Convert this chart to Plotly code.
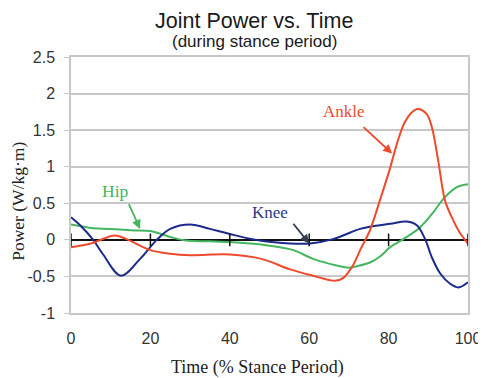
import plotly.graph_objects as go

# ---- data ----
ankle_x = [0, 5, 11, 14, 20, 25, 30, 40, 48, 55, 61, 66.5, 68.6, 71, 73, 75.3, 77.8, 80.2, 82.3, 84, 85.8, 87.3, 89.6, 90.9, 92.5, 94.2, 95.9, 97.9, 100]
ankle_y = [-0.1, -0.05, 0.06, 0.01, -0.14, -0.19, -0.21, -0.2, -0.26, -0.4, -0.49, -0.56, -0.52, -0.35, -0.12, 0.13, 0.54, 0.95, 1.35, 1.6, 1.74, 1.79, 1.72, 1.54, 1.08, 0.54, 0.31, 0.1, -0.05]

hip_x = [0, 5.6, 10, 15, 20, 25, 29, 35, 40, 45, 50, 56, 61, 66.9, 70, 72, 75.3, 78, 80.4, 83.7, 87.9, 91.3, 93.8, 97.2, 100]
hip_y = [0.21, 0.16, 0.15, 0.13, 0.12, 0.04, -0.01, -0.02, -0.03, -0.05, -0.08, -0.14, -0.26, -0.35, -0.38, -0.36, -0.31, -0.22, -0.1, 0.01, 0.17, 0.38, 0.56, 0.72, 0.76]

knee_x = [0, 2.3, 5.6, 8.1, 12.6, 17.4, 21.6, 25, 30, 35, 40, 47.6, 55.2, 60.2, 66, 72.8, 75.3, 80.4, 84.6, 87.1, 89.2, 90.9, 93, 95.5, 97.6, 100]
knee_y = [0.31, 0.2, 0.0, -0.2, -0.49, -0.26, 0.0, 0.15, 0.21, 0.15, 0.08, -0.01, -0.05, -0.05, 0.01, 0.15, 0.18, 0.22, 0.25, 0.2, 0.01, -0.24, -0.46, -0.6, -0.65, -0.58]

x_ticks = [0, 20, 40, 60, 80, 100]
y_ticks = [-1, -0.5, 0, 0.5, 1, 1.5, 2, 2.5]
y_tick_labels = ["-1", "-0.5", "0", "0.5", "1", "1.5", "2", "2.5"]

RED = "#ef4a2c"
GREEN = "#44b660"
NAVY = "#1c2a8c"

fig = go.Figure()

for xs, ys, c in [(hip_x, hip_y, GREEN), (knee_x, knee_y, NAVY), (ankle_x, ankle_y, RED)]:
    fig.add_trace(go.Scatter(x=xs, y=ys, mode="lines",
                             line=dict(color=c, width=2, shape="spline", smoothing=1.0),
                             showlegend=False, hoverinfo="skip"))

# zero-line tick marks
fig.add_trace(go.Scatter(
    x=x_ticks, y=[0] * len(x_ticks), mode="markers",
    marker=dict(symbol="line-ns-open", size=9, color="#111111", line=dict(color="#111111", width=1.5)),
    hoverinfo="skip", showlegend=False))

serif = "Liberation Serif"
sans = "Liberation Sans"

fig.update_layout(
    width=478, height=370,
    margin=dict(l=63, r=18, t=49, b=65),
    paper_bgcolor="white", plot_bgcolor="white",
    showlegend=False,
    xaxis=dict(range=[0, 100], tickvals=x_ticks, showgrid=False, zeroline=False, automargin=False,
               showline=True, linecolor="#c8c8c8", linewidth=1.5, mirror=True,
               ticks="", ticklabelstandoff=10,
               tickfont=dict(family=sans, size=16, color="#333333")),
    yaxis=dict(range=[-1, 2.5], tickvals=y_ticks, ticktext=y_tick_labels, automargin=False,
               showgrid=True, gridcolor="#c8c8c8", gridwidth=1.5,
               zeroline=True, zerolinecolor="#111111", zerolinewidth=1.5,
               showline=True, linecolor="#c8c8c8", linewidth=1.5, mirror=True,
               ticks="outside", ticklen=5, tickcolor="#c8c8c8", ticklabelstandoff=6,
               tickfont=dict(family=sans, size=16, color="#333333")),
)

annotations = [
    dict(text="Joint Power vs. Time", xref="paper", yref="paper", x=0.4622, y=1.140,
         showarrow=False, font=dict(family=sans, size=21.5, color="#1a1a1a"), xanchor="center", yanchor="middle"),
    dict(text="(during stance period)", xref="paper", yref="paper", x=0.4622, y=1.060,
         showarrow=False, font=dict(family=sans, size=17, color="#1a1a1a"), xanchor="center", yanchor="middle"),
    dict(text="Time (% Stance Period)", xref="paper", yref="paper", x=0.4698, y=-0.212,
         showarrow=False, font=dict(family=serif, size=18, color="#222222"), xanchor="center", yanchor="middle"),
    dict(text="Power (W/kg·m)", xref="paper", yref="paper", x=-0.1335, y=0.4344, textangle=-90,
         showarrow=False, font=dict(family=serif, size=17.5, color="#222222"), xanchor="center", yanchor="middle"),
    dict(text="Ankle", x=68.8, y=1.75, showarrow=False, font=dict(family=serif, size=17, color=RED)),
    dict(text="Hip", x=11.1, y=0.67, showarrow=False, font=dict(family=serif, size=17.5, color=GREEN)),
    dict(text="Knee", x=50.1, y=0.37, showarrow=False, font=dict(family=serif, size=17, color="#2b3a86")),
    dict(text="", x=80.9, y=1.18, ax=73.3, ay=1.56, axref="x", ayref="y", showarrow=True,
         arrowhead=2, arrowsize=1, arrowwidth=1.8, arrowcolor=RED),
    dict(text="", x=17.4, y=0.15, ax=14.4, ay=0.51, axref="x", ayref="y", showarrow=True,
         arrowhead=2, arrowsize=1, arrowwidth=1.8, arrowcolor=GREEN),
    dict(text="", x=60.0, y=-0.05, ax=55.7, ay=0.24, axref="x", ayref="y", showarrow=True,
         arrowhead=2, arrowsize=1, arrowwidth=1.8, arrowcolor="#333d4d"),
]
fig.update_layout(annotations=annotations)

fig.write_html("out.html")
